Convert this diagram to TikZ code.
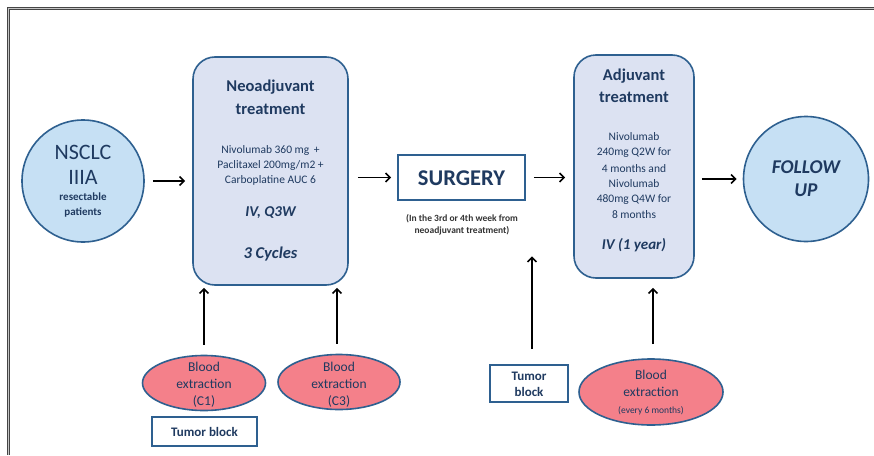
\documentclass[tikz,border=0pt]{standalone}
\usepackage{fontspec}
\setmainfont{Carlito}
\usetikzlibrary{arrows.meta,shapes.geometric}
\definecolor{outl}{HTML}{2E6090}
\definecolor{boxfill}{HTML}{DCE2F2}
\definecolor{circfill}{HTML}{C6E0F4}
\definecolor{ellfill}{HTML}{F4808A}
\definecolor{txt}{HTML}{1F3A60}
\tikzset{
  shp/.style={draw=outl, line width=1.6pt, inner sep=0pt},
  rbox/.style={shp, rectangle, rounded corners=22pt, fill=boxfill},
  circ/.style={shp, circle, fill=circfill},
  ell/.style={shp, ellipse, fill=ellfill},
  sbox/.style={shp, rectangle, fill=white},
  lbl/.style={text=txt, align=center, inner sep=0pt},
  arr/.style={line width=1.6pt, -{Straight Barb[length=4.5pt,width=9pt,line width=1.6pt]}},
  fr/.style={line width=3.4pt, draw=gray!55!black},
  fri/.style={line width=1.4pt, draw=gray!45}
}
\newcommand{\fsz}[1]{\fontsize{#1}{#1}\selectfont}
\begin{document}
\begin{tikzpicture}[x=1pt,y=-1pt]
\useasboundingbox (0,0) rectangle (874,455);
\fill[white] (0,0) rectangle (874,455);
% frame
\draw[fr] (8.5,455) -- (8.5,8.5) -- (874,8.5);
\draw[fri] (8.5,455) -- (8.5,8.5) -- (874,8.5);

% main nodes
\node[circ, minimum size=122pt] (nsclc) at (83,181) {};
\node[rbox, minimum width=155pt, minimum height=228pt] (neo) at (270.5,171) {};
\node[sbox, minimum width=127pt, minimum height=45pt] (surg) at (461.5,177.5) {};
\node[rbox, minimum width=120pt, minimum height=223pt] (adj) at (634,166.5) {};
\node[circ, minimum size=125pt] (fu) at (806,179) {};
\node[ell, minimum width=123pt, minimum height=55pt] (bc1) at (204,383) {};
\node[ell, minimum width=122pt, minimum height=55pt] (bc3) at (339,382) {};
\node[sbox, minimum width=105pt, minimum height=29pt] (tb1) at (204.5,431.5) {};
\node[sbox, minimum width=78pt, minimum height=37pt] (tb2) at (529,383.5) {};
\node[ell, minimum width=144pt, minimum height=66pt] (be6) at (651,392) {};

% texts
\node[lbl, font=\fsz{22}] (t1) at (83,152) {NSCLC};
\node[lbl, font=\fsz{22}] (t2) at (83,177) {IIIA};
\node[lbl, font=\fsz{11}\bfseries] (t3) at (83,197) {resectable};
\node[lbl, font=\fsz{11}\bfseries] (t4) at (83,212) {patients};

\node[lbl, font=\fsz{16.5}\bfseries] (n1) at (270.5,87) {Neoadjuvant};
\node[lbl, font=\fsz{16.5}\bfseries] (n2) at (270.5,109) {treatment};
\node[lbl, font=\fsz{11.5}] (n3) at (270.5,150) {Nivolumab 360 mg \,+};
\node[lbl, font=\fsz{11.5}] (n4) at (270.5,165) {Paclitaxel 200mg/m2 +};
\node[lbl, font=\fsz{11.5}] (n5) at (270.5,180) {Carboplatine AUC 6};
\node[lbl, font=\fsz{15}\bfseries\itshape] (n6) at (270.5,213) {IV, Q3W};
\node[lbl, font=\fsz{16.5}\bfseries\itshape] (n7) at (270.5,254) {3 Cycles};

\node[lbl, font=\fsz{22.5}\bfseries] (s1) at (461.5,178) {SURGERY};
\node[lbl, font=\fsz{9.5}\bfseries, text=black!80] (note) at (462,225)
  {(In the 3rd or 4th week from\\[2pt]neoadjuvant treatment)};

\node[lbl, font=\fsz{16.5}\bfseries] (a1) at (634,76) {Adjuvant};
\node[lbl, font=\fsz{16.5}\bfseries] (a2) at (634,97) {treatment};
\node[lbl, font=\fsz{11.5}] (a3) at (634,137) {Nivolumab};
\node[lbl, font=\fsz{11.5}] (a4) at (634,153) {240mg Q2W for};
\node[lbl, font=\fsz{11.5}] (a5) at (634,168.5) {4 months and};
\node[lbl, font=\fsz{11.5}] (a6) at (634,184) {Nivolumab};
\node[lbl, font=\fsz{11.5}] (a7) at (634,200) {480mg Q4W for};
\node[lbl, font=\fsz{11.5}] (a8) at (634,215) {8 months};
\node[lbl, font=\fsz{15}\bfseries\itshape] (a9) at (634,245) {IV (1 year)};

\node[lbl, font=\fsz{19.5}\bfseries\itshape] (f1) at (806,167) {FOLLOW};
\node[lbl, font=\fsz{19.5}\bfseries\itshape] (f2) at (806,190) {UP};

\node[lbl, font=\fsz{13.5}] (b1a) at (204,367) {Blood};
\node[lbl, font=\fsz{13.5}] (b1b) at (204,384) {extraction};
\node[lbl, font=\fsz{13.5}] (b1c) at (204,401) {(C1)};
\node[lbl, font=\fsz{13.5}] (b3a) at (339,367) {Blood};
\node[lbl, font=\fsz{13.5}] (b3b) at (339,384) {extraction};
\node[lbl, font=\fsz{13.5}] (b3c) at (339,401) {(C3)};
\node[lbl, font=\fsz{13}\bfseries] (tt1) at (204.5,432) {Tumor block};
\node[lbl, font=\fsz{13}\bfseries] (tt2a) at (529,376) {Tumor};
\node[lbl, font=\fsz{13}\bfseries] (tt2b) at (529,392) {block};
\node[lbl, font=\fsz{13.5}] (b6a) at (651,375) {Blood};
\node[lbl, font=\fsz{13.5}] (b6b) at (651,392) {extraction};
\node[lbl, font=\fsz{9.5}] (b6c) at (651,411) {(every 6 months)};

% horizontal arrows
\draw[arr, shorten <=8pt, shorten >=7pt] (nsclc.east) -- (nsclc.east -| neo.west);
\draw[arr, shorten <=9pt, shorten >=6pt] (neo.east |- surg.west) -- (surg.west);
\draw[arr, shorten <=8pt, shorten >=8pt] (surg.east) -- (surg.east -| adj.west);
\draw[arr, shorten <=7pt, shorten >=6pt] (adj.east |- fu.west) -- (fu.west);

% vertical arrows
\draw[arr, shorten <=10pt, shorten >=2pt] (bc1.north) -- (bc1.north |- neo.south);
\draw[arr, shorten <=10pt, shorten >=2pt] ([xshift=-2pt]bc3.north) -- ([xshift=-2pt]bc3.north |- neo.south);
\draw[arr, shorten <=15pt, shorten >=21pt] ([xshift=3pt]tb2.north) -- ([xshift=3pt]tb2.north |- note.south);
\draw[arr, shorten <=14pt, shorten >=9pt] ([xshift=2pt]be6.north) -- ([xshift=2pt]be6.north |- adj.south);
\end{tikzpicture}
\end{document}
